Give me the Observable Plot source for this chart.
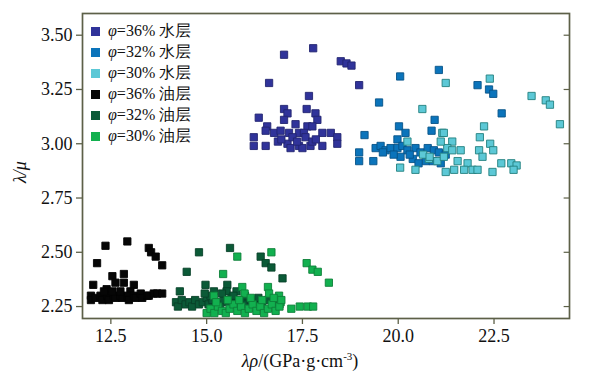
<!DOCTYPE html>
<html>
<head>
<meta charset="utf-8">
<script src="https://cdn.jsdelivr.net/npm/d3@7"></script>
<script src="https://cdn.jsdelivr.net/npm/@observablehq/plot@0.6"></script>
<style>
  .t { font-family: "Liberation Serif", serif; }
  #legend { position: absolute; left: 0; top: 0; width: 300px; font-size: 16px; color: #111; }
  .sw { position: absolute; width: 9px; height: 9px; }
  .lab { position: absolute; white-space: nowrap; line-height: 18px; }
</style>
</head>
<body style="margin:0;background:#fff">
<div id="wrap" class="t" style="position:relative;width:593px;height:379px"><div id="legend" class="t"></div></div>
<script>
// ---- data ----
const seriesNames = ["φ=36% 水层", "φ=32% 水层", "φ=30% 水层", "φ=36% 油层", "φ=32% 油层", "φ=30% 油层"];
const seriesColors = ["#30339a", "#0b74bb", "#5cc8d6", "#060606", "#0b5a37", "#12b04f"];
const xTicks = [12.5, 15.0, 17.5, 20.0, 22.5];
const yTicks = [2.25, 2.50, 2.75, 3.00, 3.25, 3.50];

const water36 = [
  [17.02,3.41],[17.78,3.44],[18.50,3.38],[18.65,3.37],[18.78,3.36],[16.63,3.28],[18.98,3.27],
  [17.67,3.22],[17.02,3.16],[17.11,3.14],[17.61,3.16],[17.84,3.14],[16.36,3.12],[17.02,3.11],
  [17.89,3.11],[16.58,3.08],[16.54,3.06],[17.32,3.09],[17.63,3.08],[17.76,3.08],[16.76,3.05],
  [16.93,3.06],[17.15,3.05],[17.41,3.05],[17.54,3.05],[18.02,3.05],[18.24,3.05],[18.41,3.03],
  [16.23,3.03],[16.23,2.99],[16.54,2.99],[17.11,3.00],[17.19,2.98],[17.41,2.99],[17.50,2.98],
  [17.71,2.99],[18.02,2.99],[18.41,3.00],[17.24,3.03],[17.58,3.03],[17.76,3.01],[16.86,3.01],
  [17.36,3.01],[16.95,3.02],[17.85,3.02]
];
const water32 = [
  [20.05,3.31],[21.06,3.34],[22.07,3.27],[22.37,3.25],[22.48,3.23],[19.50,3.19],[22.70,3.14],
  [20.95,3.11],[19.12,3.04],[20.02,3.08],[20.87,3.06],[20.19,3.05],[19.98,3.02],[18.98,2.96],
  [18.98,2.92],[19.35,2.92],[19.41,2.98],[19.54,2.99],[19.67,2.97],[19.80,2.98],[19.98,2.98],
  [20.11,2.99],[20.24,2.97],[20.45,2.98],[20.58,2.96],[20.77,2.98],[20.93,2.97],[21.06,2.96],
  [21.24,2.95],[20.06,2.94],[20.38,2.93],[20.72,2.92],[20.53,2.91],[20.90,2.92],[19.88,2.95],
  [21.11,2.91],[19.60,2.96],[20.30,2.95]
];
const water30 = [
  [22.39,3.30],[21.24,3.28],[23.48,3.22],[23.85,3.20],[23.96,3.18],[24.22,3.09],[20.63,3.16],
  [22.24,3.08],[21.15,3.05],[22.13,3.03],[21.41,3.01],[22.40,3.00],[22.48,2.97],[22.11,2.97],
  [22.69,2.91],[22.95,2.91],[23.09,2.90],[23.01,2.88],[22.46,2.87],[22.20,2.94],[21.81,2.91],
  [21.94,2.88],[22.07,2.88],[21.46,2.88],[21.72,2.88],[21.24,2.87],[20.45,2.88],[20.05,2.89],
  [20.80,2.93],[21.02,2.92],[21.19,2.94],[21.28,2.98],[21.41,2.97],[21.63,2.97],[20.24,3.01],
  [21.11,3.01],[21.19,3.05],[20.65,2.95],[20.82,2.94],[21.55,2.92]
];
const oil36 = [
  [12.36,2.53],[12.93,2.55],[13.49,2.52],[13.55,2.50],[13.67,2.48],[12.14,2.45],[13.84,2.44],
  [12.54,2.39],[12.84,2.40],[12.84,2.36],[12.62,2.36],[12.04,2.35],[13.10,2.35],[12.39,2.33],
  [13.01,2.32],[11.98,2.30],[11.98,2.28],[12.10,2.29],[12.23,2.30],[12.28,2.28],[12.41,2.30],
  [12.45,2.28],[12.58,2.30],[12.62,2.29],[12.75,2.30],[12.80,2.29],[12.93,2.30],[12.97,2.28],
  [13.10,2.30],[13.14,2.29],[13.28,2.31],[13.32,2.29],[13.45,2.30],[13.49,2.30],[13.62,2.31],
  [13.71,2.31],[13.84,2.31],[12.32,2.32],[12.54,2.32],[12.75,2.32]
];
const oil32 = [
  [14.80,2.50],[15.61,2.52],[16.41,2.48],[16.54,2.45],[16.69,2.43],[16.98,2.38],[14.48,2.41],
  [14.30,2.32],[14.97,2.35],[15.54,2.35],[15.52,2.32],[15.78,2.32],[15.19,2.32],
  [14.20,2.27],[14.25,2.25],[14.35,2.28],[14.45,2.26],[14.55,2.27],[14.62,2.25],[14.70,2.28],
  [14.80,2.26],[14.90,2.27],[15.00,2.29],[15.05,2.26],[15.15,2.28],[15.25,2.27],[15.35,2.26],
  [15.45,2.28],[15.55,2.27],[15.65,2.29],[15.75,2.26],[15.85,2.28],[15.95,2.27],[16.05,2.26],
  [16.15,2.28],[16.25,2.27],[16.35,2.29],[16.45,2.26],[16.60,2.28],[16.75,2.27],[16.90,2.26],
  [15.10,2.30],[15.40,2.31],[15.70,2.30],[14.95,2.31],[16.00,2.30]
];
const oil30 = [
  [15.80,2.48],[16.69,2.50],[15.43,2.40],[17.61,2.45],[17.76,2.42],[17.90,2.41],[18.19,2.36],
  [15.93,2.34],[15.99,2.31],[16.60,2.34],[16.63,2.31],[16.89,2.30],[16.93,2.27],[17.21,2.24],
  [17.43,2.25],[17.64,2.25],[17.78,2.25],[15.19,2.30],
  [15.00,2.22],[15.10,2.24],[15.20,2.22],[15.30,2.25],[15.40,2.23],[15.50,2.22],[15.60,2.24],
  [15.70,2.26],[15.80,2.23],[15.90,2.25],[16.00,2.22],[16.10,2.24],[16.20,2.26],[16.30,2.23],
  [16.40,2.25],[16.50,2.22],[16.60,2.24],[16.70,2.26],[16.80,2.23],[16.90,2.25],[15.25,2.27],
  [15.55,2.28],[15.85,2.28],[16.15,2.29],[16.45,2.28],[16.75,2.29],[16.95,2.28]
];
const allSeries = [water36, water32, water30, oil36, oil32, oil30];

// ---- build table ----
const rows = [];
allSeries.forEach((arr, i) => arr.forEach(([x, y]) => rows.push({x, y, s: seriesNames[i]})));

const frameColor = "#5d6048";
const xDomain = [11.76, 24.47];
const yDomain = [2.195, 3.60];

const color = d3.scaleOrdinal(seriesNames, seriesColors);
const strokeColor = (s) => {
  const i = seriesNames.indexOf(s);
  if (i === 2) return "#23807f";
  return d3.color(seriesColors[i]).darker(0.9).formatHex();
};

const plot = Plot.plot({
  width: 593,
  height: 379,
  marginLeft: 82,
  marginRight: 24,
  marginTop: 13,
  marginBottom: 61,
  style: {fontFamily: "Liberation Serif", fontSize: "18px", color: "#111", background: "#fff"},
  x: {domain: xDomain},
  y: {domain: yDomain},
  marks: [
    Plot.dot(rows, {
      x: "x", y: "y", symbol: "square", r: 4.1,
      fill: d => color(d.s), stroke: d => strokeColor(d.s), strokeWidth: 0.9
    }),
    Plot.ruleY(yTicks, {x1: xDomain[1] - 0.14, x2: xDomain[1], stroke: frameColor, strokeWidth: 1.2}),
    Plot.frame({stroke: frameColor, strokeWidth: 1.7}),
    Plot.axisX({ticks: xTicks, tickFormat: d3.format(".1f"), tickSize: 6, tickPadding: 5, label: null, stroke: frameColor, fill: "#111", strokeWidth: 1.3}),
    Plot.axisY({ticks: yTicks, tickFormat: d3.format(".2f"), tickSize: 6, tickPadding: 4, label: null, stroke: frameColor, fill: "#111", strokeWidth: 1.3})
  ]
});

document.getElementById("wrap").prepend(plot);
const svg = d3.select(plot);

// axis titles with mixed styling
const xl = svg.append("text").attr("x", 300).attr("y", 367).attr("text-anchor", "middle").attr("fill", "#111");
xl.append("tspan").attr("font-style", "italic").text("λρ");
xl.append("tspan").text("/(GPa·g·cm");
xl.append("tspan").attr("font-size", "11px").attr("dy", -7).text("-3");
xl.append("tspan").attr("dy", 7).text(")");

svg.append("text").attr("transform", "translate(26,172) rotate(-90)").attr("text-anchor", "middle")
  .attr("font-style", "italic").attr("fill", "#111").text("λ/μ");

// legend
const legend = document.getElementById("legend");
const rowY = [31, 52, 73, 94, 115, 136];
seriesNames.forEach((name, i) => {
  const sw = document.createElement("div");
  sw.className = "sw";
  sw.style.left = "91px";
  sw.style.top = (rowY[i] - 4.5) + "px";
  sw.style.background = seriesColors[i];
  legend.appendChild(sw);
  const lab = document.createElement("div");
  lab.className = "lab t";
  lab.style.left = "108px";
  lab.style.top = (rowY[i] - 9) + "px";
  const parts = name.split("=");
  lab.innerHTML = "<i>φ</i>=" + parts[1];
  legend.appendChild(lab);
});
</script>
</body>
</html>
